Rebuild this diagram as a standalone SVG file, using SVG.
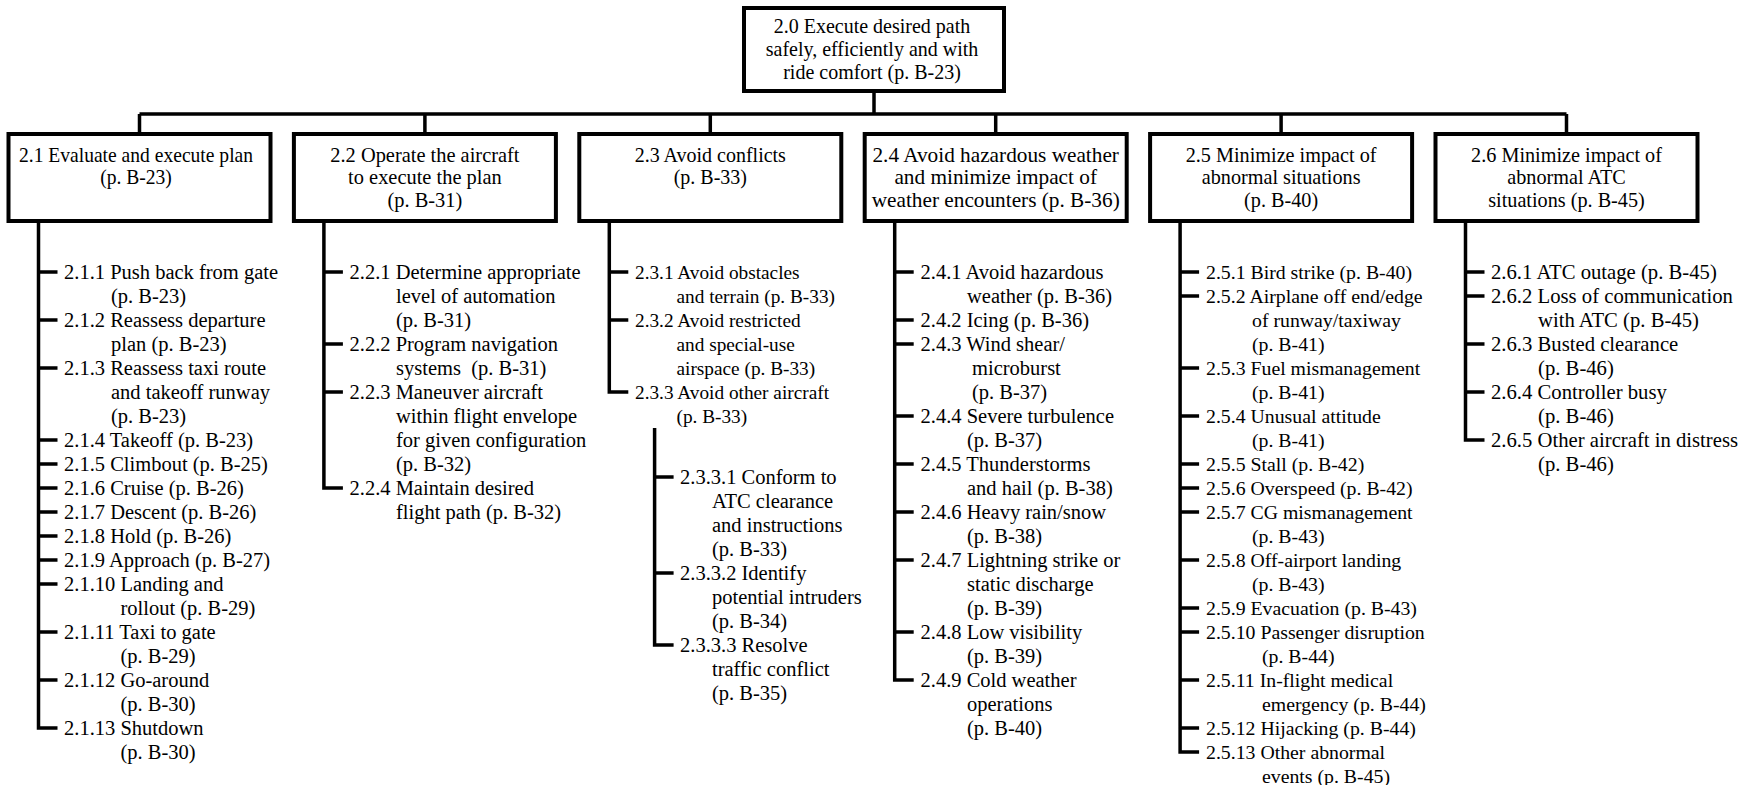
<svg xmlns="http://www.w3.org/2000/svg" width="1743" height="785" viewBox="0 0 1743 785">
<style>
.box{fill:#fff;stroke:#000;stroke-width:4}
.ln{fill:none;stroke:#000;stroke-width:3.5;stroke-linejoin:miter}
.h{font-family:"Liberation Serif","Times New Roman",serif;font-size:21.5px;text-anchor:middle;fill:#000}
.s{font-family:"Liberation Serif","Times New Roman",serif;font-size:20.5px;fill:#000;white-space:pre}
.c3{font-size:19.3px}
.c5{font-size:19.8px}
.c6{font-size:20.7px}
</style>
<rect width="1743" height="785" fill="#fff"/>
<g id="connectors">
<path class="ln" d="M874,91V114M139.5,114H1566.5M139.5,114V134M424.9,114V134M710.3,114V134M995.7,114V134M1281.1,114V134M1566.5,114V134"/>
<path class="ln" d="M38.5,221V728H57.5M38.5,272h19M38.5,320h19M38.5,368h19M38.5,440h19M38.5,464h19M38.5,488h19M38.5,512h19M38.5,536h19M38.5,560h19M38.5,584h19M38.5,632h19M38.5,680h19"/>
<path class="ln" d="M323.9,221V488H342.9M323.9,272h19M323.9,344h19M323.9,392h19"/>
<path class="ln" d="M609.3,221V392H628.3M609.3,272h19M609.3,320h19"/>
<path class="ln" d="M654.6,428V645H673.6M654.6,477h19M654.6,573h19"/>
<path class="ln" d="M894.7,221V680H913.7M894.7,272h19M894.7,320h19M894.7,344h19M894.7,416h19M894.7,464h19M894.7,512h19M894.7,560h19M894.7,632h19"/>
<path class="ln" d="M1180.1,221V752H1199.1M1180.1,272h19M1180.1,296h19M1180.1,368h19M1180.1,416h19M1180.1,464h19M1180.1,488h19M1180.1,512h19M1180.1,560h19M1180.1,608h19M1180.1,632h19M1180.1,680h19M1180.1,728h19"/>
<path class="ln" d="M1465.5,221V440H1484.5M1465.5,272h19M1465.5,296h19M1465.5,344h19M1465.5,392h19"/>
</g>
<g id="n2_0"><rect class="box" x="744" y="8" width="260" height="83"/>
<text class="h" transform="translate(872,0) scale(0.93,1)"><tspan x="0" y="33">2.0 Execute desired path</tspan><tspan x="0" y="56">safely, efficiently and with</tspan><tspan x="0" y="79">ride comfort (p. B-23)</tspan></text></g>
<g id="n2_1"><rect class="box" x="8.5" y="134" width="262" height="87"/>
<text class="h" transform="translate(136,0) scale(0.91,1)"><tspan x="0" y="162">2.1 Evaluate and execute plan</tspan><tspan x="0" y="184.5">(p. B-23)</tspan></text></g>
<g id="n2_2"><rect class="box" x="293.9" y="134" width="262" height="87"/>
<text class="h" transform="translate(424.9,0) scale(0.95,1)"><tspan x="0" y="162">2.2 Operate the aircraft</tspan><tspan x="0" y="184.5">to execute the plan</tspan><tspan x="0" y="207">(p. B-31)</tspan></text></g>
<g id="n2_3"><rect class="box" x="579.3" y="134" width="262" height="87"/>
<text class="h" transform="translate(710.3,0) scale(0.93,1)"><tspan x="0" y="162">2.3 Avoid conflicts</tspan><tspan x="0" y="184.5">(p. B-33)</tspan></text></g>
<g id="n2_4"><rect class="box" x="864.7" y="134" width="262" height="87"/>
<text class="h" transform="translate(995.7,0) scale(0.99,1)"><tspan x="0" y="162">2.4 Avoid hazardous weather</tspan><tspan x="0" y="184.5">and minimize impact of</tspan><tspan x="0" y="207">weather encounters (p. B-36)</tspan></text></g>
<g id="n2_5"><rect class="box" x="1150.1" y="134" width="262" height="87"/>
<text class="h" transform="translate(1281.1,0) scale(0.94,1)"><tspan x="0" y="162">2.5 Minimize impact of</tspan><tspan x="0" y="184.5">abnormal situations</tspan><tspan x="0" y="207">(p. B-40)</tspan></text></g>
<g id="n2_6"><rect class="box" x="1435.5" y="134" width="262" height="87"/>
<text class="h" transform="translate(1566.5,0) scale(0.94,1)"><tspan x="0" y="162">2.6 Minimize impact of</tspan><tspan x="0" y="184.5">abnormal ATC</tspan><tspan x="0" y="207">situations (p. B-45)</tspan></text></g>

<g id="n2_1_1"><text class="s"><tspan x="64" y="279">2.1.1 Push back from gate</tspan><tspan x="111" y="303">(p. B-23)</tspan></text></g>
<g id="n2_1_2"><text class="s"><tspan x="64" y="327">2.1.2 Reassess departure</tspan><tspan x="111" y="351">plan (p. B-23)</tspan></text></g>
<g id="n2_1_3"><text class="s"><tspan x="64" y="375">2.1.3 Reassess taxi route</tspan><tspan x="111" y="399">and takeoff runway</tspan><tspan x="111" y="423">(p. B-23)</tspan></text></g>
<g id="n2_1_4"><text class="s" x="64" y="447">2.1.4 Takeoff (p. B-23)</text></g>
<g id="n2_1_5"><text class="s" x="64" y="471">2.1.5 Climbout (p. B-25)</text></g>
<g id="n2_1_6"><text class="s" x="64" y="495">2.1.6 Cruise (p. B-26)</text></g>
<g id="n2_1_7"><text class="s" x="64" y="519">2.1.7 Descent (p. B-26)</text></g>
<g id="n2_1_8"><text class="s" x="64" y="543">2.1.8 Hold (p. B-26)</text></g>
<g id="n2_1_9"><text class="s" x="64" y="567">2.1.9 Approach (p. B-27)</text></g>
<g id="n2_1_10"><text class="s"><tspan x="64" y="591">2.1.10 Landing and</tspan><tspan x="120.5" y="615">rollout (p. B-29)</tspan></text></g>
<g id="n2_1_11"><text class="s"><tspan x="64" y="639">2.1.11 Taxi to gate</tspan><tspan x="120.5" y="663">(p. B-29)</tspan></text></g>
<g id="n2_1_12"><text class="s"><tspan x="64" y="687">2.1.12 Go-around</tspan><tspan x="120.5" y="711">(p. B-30)</tspan></text></g>
<g id="n2_1_13"><text class="s"><tspan x="64" y="735">2.1.13 Shutdown</tspan><tspan x="120.5" y="759">(p. B-30)</tspan></text></g>

<g id="n2_2_1"><text class="s"><tspan x="349.5" y="279">2.2.1 Determine appropriate</tspan><tspan x="396" y="303">level of automation</tspan><tspan x="396" y="327">(p. B-31)</tspan></text></g>
<g id="n2_2_2"><text class="s"><tspan x="349.5" y="351">2.2.2 Program navigation</tspan><tspan x="396" y="375">systems  (p. B-31)</tspan></text></g>
<g id="n2_2_3"><text class="s"><tspan x="349.5" y="399">2.2.3 Maneuver aircraft</tspan><tspan x="396" y="423">within flight envelope</tspan><tspan x="396" y="447">for given configuration</tspan><tspan x="396" y="471">(p. B-32)</tspan></text></g>
<g id="n2_2_4"><text class="s"><tspan x="349.5" y="495">2.2.4 Maintain desired</tspan><tspan x="396" y="519">flight path (p. B-32)</tspan></text></g>

<g id="n2_3_1"><text class="s c3"><tspan x="635" y="279">2.3.1 Avoid obstacles</tspan><tspan x="676.5" y="303">and terrain (p. B-33)</tspan></text></g>
<g id="n2_3_2"><text class="s c3"><tspan x="635" y="327">2.3.2 Avoid restricted</tspan><tspan x="676.5" y="351">and special-use</tspan><tspan x="676.5" y="375">airspace (p. B-33)</tspan></text></g>
<g id="n2_3_3"><text class="s c3"><tspan x="635" y="399">2.3.3 Avoid other aircraft</tspan><tspan x="676.5" y="423">(p. B-33)</tspan></text></g>
<g id="n2_3_3_1"><text class="s"><tspan x="680" y="484">2.3.3.1 Conform to</tspan><tspan x="712" y="508">ATC clearance</tspan><tspan x="712" y="532">and instructions</tspan><tspan x="712" y="556">(p. B-33)</tspan></text></g>
<g id="n2_3_3_2"><text class="s"><tspan x="680" y="580">2.3.3.2 Identify</tspan><tspan x="712" y="604">potential intruders</tspan><tspan x="712" y="628">(p. B-34)</tspan></text></g>
<g id="n2_3_3_3"><text class="s"><tspan x="680" y="652">2.3.3.3 Resolve</tspan><tspan x="712" y="676">traffic conflict</tspan><tspan x="712" y="700">(p. B-35)</tspan></text></g>

<g id="n2_4_1"><text class="s"><tspan x="920.5" y="279">2.4.1 Avoid hazardous</tspan><tspan x="967" y="303">weather (p. B-36)</tspan></text></g>
<g id="n2_4_2"><text class="s" x="920.5" y="327">2.4.2 Icing (p. B-36)</text></g>
<g id="n2_4_3"><text class="s"><tspan x="920.5" y="351">2.4.3 Wind shear/</tspan><tspan x="972" y="375">microburst</tspan><tspan x="972" y="399">(p. B-37)</tspan></text></g>
<g id="n2_4_4"><text class="s"><tspan x="920.5" y="423">2.4.4 Severe turbulence</tspan><tspan x="967" y="447">(p. B-37)</tspan></text></g>
<g id="n2_4_5"><text class="s"><tspan x="920.5" y="471">2.4.5 Thunderstorms</tspan><tspan x="967" y="495">and hail (p. B-38)</tspan></text></g>
<g id="n2_4_6"><text class="s"><tspan x="920.5" y="519">2.4.6 Heavy rain/snow</tspan><tspan x="967" y="543">(p. B-38)</tspan></text></g>
<g id="n2_4_7"><text class="s"><tspan x="920.5" y="567">2.4.7 Lightning strike or</tspan><tspan x="967" y="591">static discharge</tspan><tspan x="967" y="615">(p. B-39)</tspan></text></g>
<g id="n2_4_8"><text class="s"><tspan x="920.5" y="639">2.4.8 Low visibility</tspan><tspan x="967" y="663">(p. B-39)</tspan></text></g>
<g id="n2_4_9"><text class="s"><tspan x="920.5" y="687">2.4.9 Cold weather</tspan><tspan x="967" y="711">operations</tspan><tspan x="967" y="735">(p. B-40)</tspan></text></g>

<g id="n2_5_1"><text class="s c5" x="1206" y="279">2.5.1 Bird strike (p. B-40)</text></g>
<g id="n2_5_2"><text class="s c5"><tspan x="1206" y="303">2.5.2 Airplane off end/edge</tspan><tspan x="1252" y="327">of runway/taxiway</tspan><tspan x="1252" y="351">(p. B-41)</tspan></text></g>
<g id="n2_5_3"><text class="s c5"><tspan x="1206" y="375">2.5.3 Fuel mismanagement</tspan><tspan x="1252" y="399">(p. B-41)</tspan></text></g>
<g id="n2_5_4"><text class="s c5"><tspan x="1206" y="423">2.5.4 Unusual attitude</tspan><tspan x="1252" y="447">(p. B-41)</tspan></text></g>
<g id="n2_5_5"><text class="s c5" x="1206" y="471">2.5.5 Stall (p. B-42)</text></g>
<g id="n2_5_6"><text class="s c5" x="1206" y="495">2.5.6 Overspeed (p. B-42)</text></g>
<g id="n2_5_7"><text class="s c5"><tspan x="1206" y="519">2.5.7 CG mismanagement</tspan><tspan x="1252" y="543">(p. B-43)</tspan></text></g>
<g id="n2_5_8"><text class="s c5"><tspan x="1206" y="567">2.5.8 Off-airport landing</tspan><tspan x="1252" y="591">(p. B-43)</tspan></text></g>
<g id="n2_5_9"><text class="s c5" x="1206" y="615">2.5.9 Evacuation (p. B-43)</text></g>
<g id="n2_5_10"><text class="s c5"><tspan x="1206" y="639">2.5.10 Passenger disruption</tspan><tspan x="1262" y="663">(p. B-44)</tspan></text></g>
<g id="n2_5_11"><text class="s c5"><tspan x="1206" y="687">2.5.11 In-flight medical</tspan><tspan x="1262" y="711">emergency (p. B-44)</tspan></text></g>
<g id="n2_5_12"><text class="s c5" x="1206" y="735">2.5.12 Hijacking (p. B-44)</text></g>
<g id="n2_5_13"><text class="s c5"><tspan x="1206" y="759">2.5.13 Other abnormal</tspan><tspan x="1262" y="783">events (p. B-45)</tspan></text></g>

<g id="n2_6_1"><text class="s c6" x="1491" y="279">2.6.1 ATC outage (p. B-45)</text></g>
<g id="n2_6_2"><text class="s c6"><tspan x="1491" y="303">2.6.2 Loss of communication</tspan><tspan x="1538" y="327">with ATC (p. B-45)</tspan></text></g>
<g id="n2_6_3"><text class="s c6"><tspan x="1491" y="351">2.6.3 Busted clearance</tspan><tspan x="1538" y="375">(p. B-46)</tspan></text></g>
<g id="n2_6_4"><text class="s c6"><tspan x="1491" y="399">2.6.4 Controller busy</tspan><tspan x="1538" y="423">(p. B-46)</tspan></text></g>
<g id="n2_6_5"><text class="s c6"><tspan x="1491" y="447">2.6.5 Other aircraft in distress</tspan><tspan x="1538" y="471">(p. B-46)</tspan></text></g>
</svg>
